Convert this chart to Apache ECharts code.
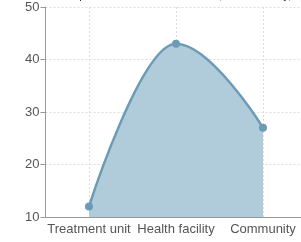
<!DOCTYPE html>
<html>
<head>
<meta charset="utf-8">
<script src="https://cdn.jsdelivr.net/npm/echarts@6/dist/echarts.min.js"></script>
<style>
  html, body { margin: 0; padding: 0; background: #fff; }
  #chart { width: 301px; height: 242px; }
</style>
</head>
<body>
<div id="chart"></div>
<script>
// categories and values
var categories = ['Treatment unit', 'Health facility', 'Community'];
var values = [12, 43, 27];
var yTicks = [10, 20, 30, 40, 50];

var chart = echarts.init(document.getElementById('chart'));

var option = {
  animation: false,
  textStyle: { fontFamily: 'Liberation Sans, Arial, sans-serif' },
  title: {
    text: 'Cases per COVID-19 treatment unit, health facility, community',
    left: 40,
    top: -15,
    textStyle: { fontSize: 11, fontWeight: 'normal', color: '#222' }
  },
  grid: { left: 45.5, width: 261, top: 7, height: 210, outerBoundsMode: 'none' },
  xAxis: {
    type: 'category',
    data: categories,
    boundaryGap: true,
    axisLine: { lineStyle: { color: '#999' } },
    axisTick: { alignWithLabel: true, length: 5, lineStyle: { color: '#999' } },
    axisLabel: { color: '#555', fontSize: 13, margin: 6, interval: 0 },
    splitLine: { show: true, alignWithLabel: true, lineStyle: { color: '#ddd', type: [2, 2] } }
  },
  yAxis: {
    type: 'value',
    min: yTicks[0],
    max: yTicks[yTicks.length - 1],
    interval: 10,
    axisLine: { show: true, lineStyle: { color: '#999' } },
    axisTick: { show: true, length: 5, lineStyle: { color: '#999' } },
    axisLabel: { color: '#555', fontSize: 13, margin: 6 },
    splitLine: { lineStyle: { color: '#ddd', type: [2, 2] } }
  },
  series: [{
    type: 'line',
    data: values,
    smooth: 0.4,
    smoothMonotone: 'x',
    symbol: 'circle',
    symbolSize: 8,
    itemStyle: { color: '#6b9bb7' },
    lineStyle: { color: '#6b9bb7', width: 2.5 },
    areaStyle: { color: '#b0cbd9', opacity: 1 }
  }]
};

chart.setOption(option);
</script>
</body>
</html>
